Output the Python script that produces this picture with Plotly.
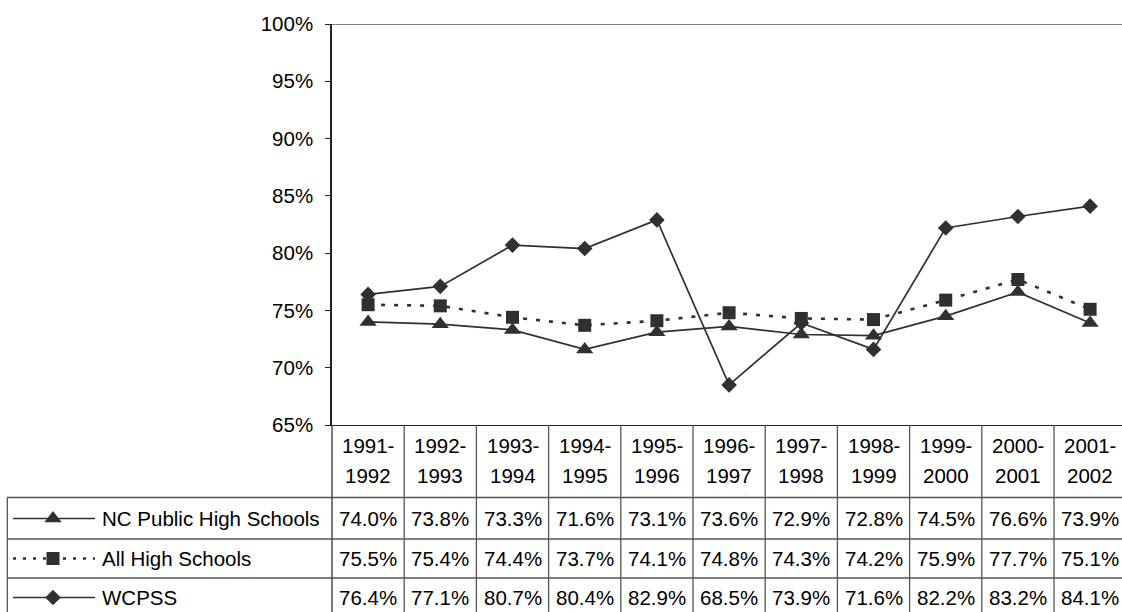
import plotly.graph_objects as go

# ---------------- data ----------------
categories = ["1991-1992", "1992-1993", "1993-1994", "1994-1995", "1995-1996", "1996-1997",
              "1997-1998", "1998-1999", "1999-2000", "2000-2001", "2001-2002"]
series_names = ["NC Public High Schools", "All High Schools", "WCPSS"]
nc_public = [74.0, 73.8, 73.3, 71.6, 73.1, 73.6, 72.9, 72.8, 74.5, 76.6, 73.9]
all_hs = [75.5, 75.4, 74.4, 73.7, 74.1, 74.8, 74.3, 74.2, 75.9, 77.7, 75.1]
wcpss = [76.4, 77.1, 80.7, 80.4, 82.9, 68.5, 73.9, 71.6, 82.2, 83.2, 84.1]
y_ticks = [65, 70, 75, 80, 85, 90, 95, 100]
y_tick_labels = ["65%", "70%", "75%", "80%", "85%", "90%", "95%", "100%"]

series_values = [nc_public, all_hs, wcpss]

# ---------------- layout constants (pixels) ----------------
W, H = 1122, 612
PLOT_L = 332        # y axis position
PLOT_T = 24         # 100% line
PLOT_B = 425        # 65% line / x axis
COL_W = 72.2
FONT = "Liberation Sans, Arial, sans-serif"
INK = "#303030"
GRID = "#555555"
FS = 20.5

styles = [
    dict(dash="solid", width=1.7, symbol="triangle-up", size=15),
    dict(dash="4px,9px", width=2.6, symbol="square", size=13),
    dict(dash="solid", width=1.7, symbol="diamond", size=12),
]

# table row boundaries / centres (pixel y, table axis uses pixel-like units)
ROW_LINES = [497.5, 539, 578, 617]
ROW_CENTERS = [518.5, 558.5, 597.5]
HEAD_LINE1, HEAD_LINE2 = 445, 475

xs = list(range(len(categories)))
x_max = -0.5 + (W - PLOT_L) / COL_W

fig = go.Figure()

# main series
for name, vals, st in zip(series_names, series_values, styles):
    fig.add_trace(go.Scatter(
        x=xs, y=vals, name=name, mode="lines+markers",
        line=dict(color=INK, width=st["width"], dash=st["dash"]),
        marker=dict(symbol=st["symbol"], size=st["size"], color=INK),
        xaxis="x", yaxis="y", hoverinfo="x+y", showlegend=False,
    ))

# dummy trace to create the table subplot
fig.add_trace(go.Scatter(x=[0], y=[500], mode="markers", marker=dict(opacity=0),
                         xaxis="x", yaxis="y3", hoverinfo="skip", showlegend=False))

# legend samples inside the table (left area, pixel-like axes)
for rc, st in zip(ROW_CENTERS, styles):
    fig.add_trace(go.Scatter(
        x=[13, 95], y=[rc, rc], mode="lines",
        line=dict(color=INK, width=st["width"], dash=st["dash"] if st["dash"] == "solid" else "3px,7px"),
        xaxis="x2", yaxis="y3", hoverinfo="skip", showlegend=False,
    ))
    fig.add_trace(go.Scatter(
        x=[53], y=[rc], mode="markers",
        marker=dict(symbol=st["symbol"], size=st["size"], color=INK),
        xaxis="x2", yaxis="y3", hoverinfo="skip", showlegend=False,
    ))

annotations = []
# header labels
for i, cat in enumerate(categories):
    a, b = cat.split("-")
    annotations.append(dict(x=i, y=HEAD_LINE1, xref="x", yref="y3", text=a + "-",
                            showarrow=False, xanchor="center", yanchor="middle",
                            font=dict(family=FONT, size=FS, color="black")))
    annotations.append(dict(x=i, y=HEAD_LINE2, xref="x", yref="y3", text=b,
                            showarrow=False, xanchor="center", yanchor="middle",
                            font=dict(family=FONT, size=FS, color="black")))
# values
for rc, vals in zip(ROW_CENTERS, series_values):
    for i, v in enumerate(vals):
        annotations.append(dict(x=i, y=rc, xref="x", yref="y3", text=f"{v:.1f}%",
                                showarrow=False, xanchor="center", yanchor="middle",
                                font=dict(family=FONT, size=FS, color="black")))
# series labels
for rc, name in zip(ROW_CENTERS, series_names):
    annotations.append(dict(x=100, y=rc, xref="x2", yref="y3", text=name,
                            showarrow=False, xanchor="left", yanchor="middle",
                            font=dict(family=FONT, size=FS, color="black")))

shapes = []
# top border of plot area (100%)
shapes.append(dict(type="line", xref="paper", yref="y", x0=PLOT_L / W, x1=1, y0=100, y1=100,
                   line=dict(color="#808080", width=2)))
# vertical column separators in table
for i in range(1, len(categories) + 1):
    shapes.append(dict(type="line", xref="x", yref="y3", x0=i - 0.5, x1=i - 0.5,
                       y0=PLOT_B, y1=620, line=dict(color=GRID, width=1.3)))
# horizontal row separators (data side)
for yl in ROW_LINES[:3]:
    shapes.append(dict(type="line", xref="x", yref="y3", x0=-0.5, x1=x_max + 1,
                       y0=yl, y1=yl, line=dict(color=GRID, width=1.3)))
# horizontal row separators (label side)
for yl in ROW_LINES[:3]:
    shapes.append(dict(type="line", xref="x2", yref="y3", x0=7, x1=PLOT_L,
                       y0=yl, y1=yl, line=dict(color=GRID, width=1.3)))
# left border of label area
shapes.append(dict(type="line", xref="x2", yref="y3", x0=7.3, x1=7.3,
                   y0=ROW_LINES[0], y1=620, line=dict(color=GRID, width=1.3)))
# y-axis continuation through the table
shapes.append(dict(type="line", xref="paper", yref="paper", x0=PLOT_L / W, x1=PLOT_L / W,
                   y0=0, y1=1 - PLOT_B / H, line=dict(color="#333333", width=1.3)))

fig.update_layout(
    width=W, height=H,
    autosize=False,
    margin=dict(l=0, r=0, t=0, b=0, pad=0, autoexpand=False),
    paper_bgcolor="white", plot_bgcolor="white",
    font=dict(family=FONT, size=FS, color="black"),
    showlegend=False,
    xaxis=dict(domain=[PLOT_L / W, 1], range=[-0.5, x_max], showgrid=False, zeroline=False,
               showticklabels=False, ticks="", showline=True, linecolor="#222222", linewidth=1.3,
               anchor="y", automargin=False),
    yaxis=dict(domain=[1 - PLOT_B / H, 1 - PLOT_T / H], range=[65, 100], tickmode="array",
               tickvals=y_ticks, ticktext=y_tick_labels,
               showgrid=False, zeroline=False, ticks="outside", ticklen=5,
               tickcolor="#222222", tickwidth=1.2, showline=True, linecolor="#222222",
               linewidth=1.5, tickfont=dict(family=FONT, size=FS, color="black"),
               ticklabelstandoff=8, anchor="x", automargin=False),
    xaxis2=dict(domain=[0, PLOT_L / W], range=[0, PLOT_L], visible=False, anchor="y3",
                automargin=False),
    yaxis3=dict(domain=[0, 1 - PLOT_B / H], range=[H, PLOT_B], visible=False, anchor="x",
                automargin=False),
    annotations=annotations,
    shapes=shapes,
)

fig.write_html("out.html")
